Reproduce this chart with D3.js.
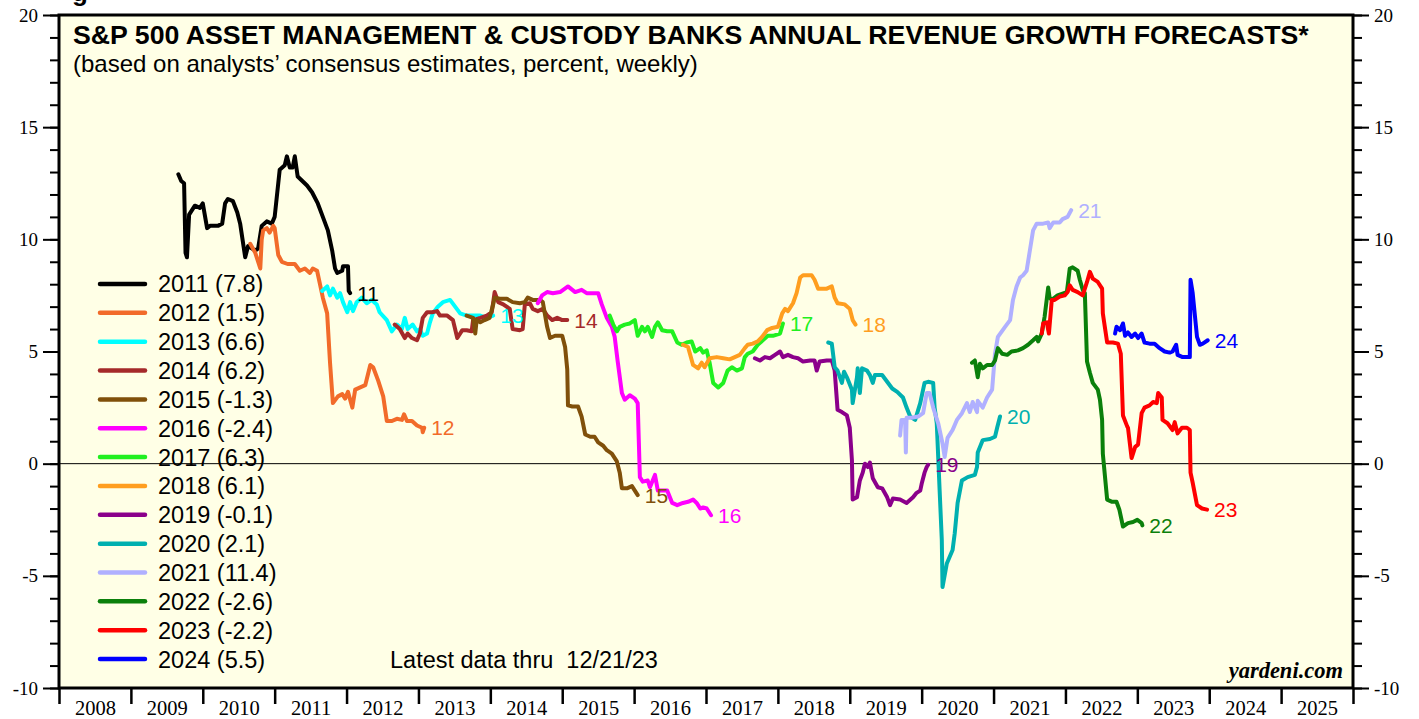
<!DOCTYPE html>
<html>
<head>
<meta charset="utf-8">
<script src="https://cdn.jsdelivr.net/npm/d3@7"></script>
<style>
  body { margin: 0; background: #fff; }
  svg { display: block; }
</style>
</head>
<body>
<div id="chart"></div>
<script>
// weekly consensus forecasts as [decimal year, percent]
const d2011 = [[2009.66,12.9],[2009.70,12.6],[2009.74,12.5],[2009.76,9.4],[2009.78,9.2],[2009.81,11.1],[2009.89,11.5],[2009.96,11.4],[2010.00,11.6],[2010.06,10.5],[2010.10,10.6],[2010.21,10.6],[2010.27,10.7],[2010.31,11.6],[2010.35,11.8],[2010.42,11.7],[2010.48,11.2],[2010.52,10.7],[2010.59,9.2],[2010.63,9.7],[2010.73,9.5],[2010.77,9.6],[2010.82,10.6],[2010.89,10.8],[2010.96,10.7],[2011.00,11.0],[2011.05,12.5],[2011.07,13.1],[2011.14,13.3],[2011.17,13.7],[2011.21,13.2],[2011.25,13.2],[2011.28,13.7],[2011.32,12.8],[2011.45,12.4],[2011.52,12.1],[2011.60,11.6],[2011.67,11.0],[2011.74,10.4],[2011.80,9.5],[2011.84,8.7],[2011.87,8.5],[2011.94,8.6],[2011.95,8.8],[2012.02,8.8],[2012.03,7.7],[2012.05,7.6]];
const d2012 = [[2010.66,9.8],[2010.73,9.4],[2010.80,8.7],[2010.82,10.0],[2010.84,10.4],[2010.89,10.5],[2010.93,10.3],[2010.98,10.6],[2011.00,10.5],[2011.05,9.3],[2011.10,9.0],[2011.18,8.9],[2011.28,8.9],[2011.35,8.6],[2011.42,8.7],[2011.49,8.5],[2011.53,8.7],[2011.59,8.6],[2011.63,8.0],[2011.67,7.4],[2011.73,6.7],[2011.77,4.5],[2011.81,2.7],[2011.88,3.0],[2011.94,3.1],[2011.98,2.9],[2012.02,3.2],[2012.08,2.5],[2012.12,3.3],[2012.19,3.4],[2012.26,3.5],[2012.33,4.4],[2012.37,4.3],[2012.44,3.7],[2012.51,3.0],[2012.56,1.9],[2012.63,1.9],[2012.70,2.0],[2012.77,1.95],[2012.80,2.2],[2012.84,1.9],[2012.91,1.9],[2012.98,1.7],[2013.05,1.6],[2013.06,1.4],[2013.08,1.6]];
const d2013 = [[2011.66,7.7],[2011.73,7.9],[2011.77,7.5],[2011.81,7.8],[2011.87,7.4],[2011.91,7.6],[2011.95,7.2],[2012.01,6.75],[2012.05,7.2],[2012.09,6.8],[2012.14,7.2],[2012.21,7.4],[2012.28,7.15],[2012.35,7.3],[2012.42,7.1],[2012.46,6.75],[2012.56,6.4],[2012.63,5.9],[2012.70,6.2],[2012.77,6.0],[2012.81,6.5],[2012.85,6.0],[2012.92,6.2],[2012.98,5.9],[2013.02,6.0],[2013.06,5.7],[2013.12,5.8],[2013.16,6.3],[2013.20,6.7],[2013.27,7.0],[2013.34,7.2],[2013.44,7.3],[2013.51,7.0],[2013.58,6.7],[2013.67,6.6],[2013.76,6.6],[2013.86,6.6],[2013.95,6.5],[2014.04,6.6]];
const d2014 = [[2012.67,6.2],[2012.74,6.0],[2012.81,5.6],[2012.85,5.8],[2012.91,5.6],[2012.98,5.5],[2013.02,5.8],[2013.06,6.5],[2013.12,6.75],[2013.19,6.75],[2013.26,6.8],[2013.30,6.6],[2013.40,6.6],[2013.48,6.4],[2013.54,5.6],[2013.61,5.95],[2013.67,5.95],[2013.74,5.9],[2013.76,6.4],[2013.86,6.5],[2013.95,6.6],[2014.02,6.75],[2014.06,7.65],[2014.11,7.2],[2014.18,7.1],[2014.27,6.9],[2014.31,6.0],[2014.41,5.95],[2014.45,6.0],[2014.48,7.1],[2014.55,7.15],[2014.59,6.9],[2014.66,6.8],[2014.73,6.9],[2014.79,6.6],[2014.86,6.4],[2014.93,6.5],[2015.00,6.4],[2015.07,6.4]];
const d2015 = [[2013.67,6.6],[2013.76,6.5],[2013.79,5.8],[2013.81,6.4],[2013.86,6.3],[2013.92,6.4],[2013.99,6.5],[2014.04,7.1],[2014.06,7.4],[2014.13,7.35],[2014.23,7.35],[2014.31,7.2],[2014.41,7.15],[2014.48,7.2],[2014.52,7.4],[2014.59,7.3],[2014.69,7.3],[2014.73,7.2],[2014.79,6.1],[2014.83,5.6],[2014.90,5.7],[2015.00,5.7],[2015.04,5.2],[2015.07,4.2],[2015.08,2.6],[2015.14,2.55],[2015.22,2.55],[2015.27,2.1],[2015.32,1.3],[2015.39,1.2],[2015.45,1.2],[2015.50,0.95],[2015.57,0.8],[2015.62,0.6],[2015.69,0.45],[2015.76,0.1],[2015.80,-0.4],[2015.83,-1.1],[2015.90,-1.1],[2015.97,-1.0],[2016.01,-1.2],[2016.05,-1.4]];
const d2016 = [[2014.66,7.15],[2014.72,7.5],[2014.79,7.65],[2014.87,7.6],[2014.97,7.65],[2015.08,7.9],[2015.18,7.65],[2015.27,7.75],[2015.34,7.6],[2015.50,7.6],[2015.55,7.1],[2015.62,6.5],[2015.69,6.1],[2015.73,5.65],[2015.77,4.6],[2015.83,3.15],[2015.87,2.85],[2015.94,3.05],[2016.01,2.9],[2016.05,2.7],[2016.08,-0.6],[2016.12,-0.8],[2016.19,-0.75],[2016.22,-1.05],[2016.29,-0.5],[2016.33,-1.2],[2016.46,-1.2],[2016.53,-1.75],[2016.60,-1.85],[2016.68,-1.75],[2016.75,-1.7],[2016.82,-1.6],[2016.87,-1.75],[2016.92,-2.0],[2016.96,-1.95],[2017.01,-2.0],[2017.07,-2.3]];
const d2017 = [[2015.66,6.6],[2015.71,6.2],[2015.76,5.9],[2015.80,6.1],[2015.87,6.2],[2015.94,6.25],[2016.01,6.4],[2016.05,5.7],[2016.11,6.1],[2016.15,5.9],[2016.19,6.1],[2016.25,5.65],[2016.29,6.1],[2016.33,6.3],[2016.39,5.95],[2016.46,5.9],[2016.53,5.9],[2016.60,5.4],[2016.66,5.3],[2016.73,5.4],[2016.80,5.45],[2016.85,5.0],[2016.92,5.15],[2016.96,4.95],[2017.01,5.05],[2017.05,4.5],[2017.10,3.6],[2017.17,3.4],[2017.24,3.6],[2017.30,4.15],[2017.36,4.3],[2017.43,4.15],[2017.50,4.25],[2017.54,4.75],[2017.58,4.9],[2017.65,5.0],[2017.72,5.3],[2017.79,5.5],[2017.86,5.7],[2017.93,5.7],[2018.03,5.8],[2018.07,6.25]];
const d2018 = [[2016.68,5.3],[2016.75,5.2],[2016.82,4.4],[2016.89,4.25],[2016.94,4.5],[2016.98,4.3],[2017.05,4.7],[2017.15,4.75],[2017.24,4.7],[2017.33,4.65],[2017.40,4.75],[2017.47,4.85],[2017.54,5.15],[2017.58,5.3],[2017.65,5.35],[2017.72,5.45],[2017.78,5.65],[2017.85,5.95],[2017.92,6.05],[2018.00,6.1],[2018.06,6.7],[2018.10,6.9],[2018.14,6.8],[2018.21,7.15],[2018.26,7.6],[2018.31,8.3],[2018.35,8.4],[2018.47,8.4],[2018.51,8.2],[2018.56,7.8],[2018.68,7.8],[2018.75,7.9],[2018.79,7.4],[2018.83,7.15],[2018.93,7.1],[2019.00,6.9],[2019.04,6.4],[2019.08,6.2]];
const d2019 = [[2017.68,4.7],[2017.75,4.6],[2017.82,4.75],[2017.89,4.7],[2017.96,4.85],[2018.03,5.0],[2018.07,4.75],[2018.14,4.85],[2018.21,4.75],[2018.28,4.7],[2018.35,4.55],[2018.45,4.6],[2018.51,4.6],[2018.54,4.15],[2018.58,4.55],[2018.68,4.6],[2018.75,4.6],[2018.79,4.15],[2018.82,2.85],[2018.83,2.4],[2018.89,2.3],[2018.96,2.15],[2019.00,1.6],[2019.03,0.15],[2019.04,-1.6],[2019.10,-1.5],[2019.14,-0.75],[2019.18,-0.4],[2019.21,0.0],[2019.25,-0.15],[2019.28,0.05],[2019.32,-0.65],[2019.39,-1.05],[2019.45,-1.1],[2019.52,-1.5],[2019.56,-1.85],[2019.60,-1.55],[2019.70,-1.6],[2019.79,-1.75],[2019.88,-1.5],[2019.93,-1.3],[2019.98,-1.2],[2020.00,-0.9],[2020.04,-0.4],[2020.07,-0.15],[2020.09,-0.05]];
const d2020 = [[2018.70,5.4],[2018.75,5.35],[2018.79,4.3],[2018.83,4.15],[2018.89,3.6],[2018.92,4.1],[2018.96,3.85],[2019.03,3.3],[2019.04,2.7],[2019.10,3.85],[2019.11,4.25],[2019.14,3.15],[2019.17,4.25],[2019.24,4.15],[2019.28,3.95],[2019.32,3.6],[2019.35,3.95],[2019.45,3.95],[2019.52,3.65],[2019.59,3.35],[2019.66,3.2],[2019.74,2.95],[2019.79,2.5],[2019.84,2.1],[2019.91,1.95],[2019.98,2.7],[2020.04,3.6],[2020.09,3.65],[2020.16,3.6],[2020.18,2.5],[2020.21,1.8],[2020.25,-1.2],[2020.28,-3.4],[2020.29,-5.5],[2020.35,-4.45],[2020.39,-4.15],[2020.43,-3.85],[2020.46,-3.1],[2020.50,-1.75],[2020.56,-0.75],[2020.64,-0.6],[2020.74,-0.5],[2020.77,-0.15],[2020.78,0.5],[2020.85,1.05],[2020.95,1.1],[2021.02,1.2],[2021.05,1.6],[2021.09,2.1]];
const d2021 = [[2019.70,1.25],[2019.72,1.95],[2019.77,1.95],[2019.78,0.5],[2019.79,2.05],[2019.86,2.05],[2019.95,2.1],[2020.02,2.25],[2020.07,3.15],[2020.11,3.15],[2020.16,2.5],[2020.23,1.8],[2020.29,0.9],[2020.32,0.3],[2020.36,1.15],[2020.43,1.5],[2020.49,1.95],[2020.56,2.25],[2020.63,2.7],[2020.67,2.3],[2020.71,2.75],[2020.77,2.3],[2020.78,2.8],[2020.85,2.5],[2020.91,2.95],[2020.98,3.3],[2020.99,3.7],[2021.02,4.9],[2021.06,5.65],[2021.16,6.1],[2021.23,6.4],[2021.27,7.3],[2021.32,7.9],[2021.37,8.3],[2021.41,8.4],[2021.46,8.6],[2021.50,9.4],[2021.55,10.4],[2021.60,10.7],[2021.69,10.7],[2021.76,10.75],[2021.78,10.5],[2021.83,10.75],[2021.92,10.75],[2021.96,10.9],[2022.03,11.0],[2022.08,11.3]];
const d2022 = [[2020.70,4.5],[2020.74,4.6],[2020.77,4.05],[2020.78,3.85],[2020.81,4.45],[2020.85,4.25],[2020.91,4.4],[2020.98,4.4],[2021.02,4.6],[2021.06,5.15],[2021.12,4.9],[2021.19,4.85],[2021.25,5.0],[2021.34,5.05],[2021.41,5.15],[2021.48,5.3],[2021.55,5.5],[2021.60,5.65],[2021.62,5.45],[2021.67,5.8],[2021.71,6.55],[2021.76,7.85],[2021.78,7.4],[2021.81,7.3],[2021.89,7.5],[2022.02,7.65],[2022.06,8.7],[2022.10,8.75],[2022.17,8.6],[2022.20,8.2],[2022.24,7.75],[2022.27,7.6],[2022.30,4.55],[2022.34,4.05],[2022.38,3.6],[2022.45,3.3],[2022.48,2.85],[2022.51,1.95],[2022.52,0.45],[2022.58,-1.6],[2022.65,-1.7],[2022.71,-1.7],[2022.75,-2.05],[2022.80,-2.8],[2022.87,-2.65],[2022.94,-2.6],[2023.00,-2.5],[2023.06,-2.65],[2023.07,-2.75]];
const d2023 = [[2021.67,5.8],[2021.69,6.25],[2021.74,6.3],[2021.77,5.8],[2021.81,7.3],[2021.85,7.3],[2021.92,7.45],[2021.99,7.5],[2022.03,7.65],[2022.06,7.95],[2022.10,7.75],[2022.17,7.65],[2022.24,7.5],[2022.30,8.1],[2022.34,8.55],[2022.38,8.25],[2022.45,8.1],[2022.51,7.8],[2022.52,6.7],[2022.58,5.4],[2022.66,5.4],[2022.73,5.35],[2022.77,4.9],[2022.80,2.15],[2022.86,1.65],[2022.87,1.6],[2022.92,0.25],[2022.97,0.75],[2023.01,0.85],[2023.06,2.25],[2023.10,2.5],[2023.17,2.6],[2023.22,2.75],[2023.27,2.7],[2023.29,3.15],[2023.34,2.95],[2023.35,1.95],[2023.42,1.8],[2023.49,1.5],[2023.52,1.85],[2023.56,1.35],[2023.62,1.6],[2023.69,1.6],[2023.73,1.5],[2023.74,-0.4],[2023.77,-0.85],[2023.83,-1.85],[2023.90,-2.0],[2023.97,-2.05]];
const d2024 = [[2022.69,5.8],[2022.71,6.1],[2022.76,5.95],[2022.80,6.25],[2022.83,5.7],[2022.87,5.85],[2022.92,5.65],[2022.97,5.8],[2023.01,5.6],[2023.06,5.8],[2023.10,5.4],[2023.17,5.35],[2023.24,5.35],[2023.31,5.15],[2023.38,5.0],[2023.45,4.95],[2023.49,5.0],[2023.54,5.3],[2023.56,4.85],[2023.63,4.75],[2023.73,4.75],[2023.74,8.2],[2023.77,7.6],[2023.83,5.65],[2023.87,5.3],[2023.91,5.35],[2023.98,5.5]];

const seriesYears = [2011, 2012, 2013, 2014, 2015, 2016, 2017, 2018, 2019, 2020, 2021, 2022, 2023, 2024];
const seriesData = [d2011, d2012, d2013, d2014, d2015, d2016, d2017, d2018, d2019, d2020, d2021, d2022, d2023, d2024];
const legendValues = ["7.8", "1.5", "6.6", "6.2", "-1.3", "-2.4", "6.3", "6.1", "-0.1", "2.1", "11.4", "-2.6", "-2.2", "5.5"];
const seriesColors = ["#000000", "#F26B2A", "#00FFFF", "#A52A2A", "#80500A", "#FF00FF", "#20F020", "#FF9E1F", "#8B008B", "#00B0B0", "#B0B0FF", "#0B800B", "#FF0000", "#0000FF"];
const yearLabels = d3.range(2008, 2026);
const yMajor = [-10, -5, 0, 5, 10, 15, 20];
const yMinor = d3.range(-10, 21);

const W = 1419, H = 719;
const plotLeft = 59, plotRight = 1353, plotTop = 15, plotBottom = 688;

const svg = d3.select("#chart").append("svg")
	.attr("width", W)
	.attr("height", H);

const x = d3.scaleLinear().domain([2008, 2026]).range([plotLeft, plotRight]);
const y = d3.scaleLinear().domain([-10, 20]).range([plotBottom, plotTop]);

// cropped heading left over above the frame
svg.append("text")
	.attr("x", 72).attr("y", 1)
	.attr("font-family", "Liberation Sans, Arial, sans-serif")
	.attr("font-weight", "bold")
	.attr("font-size", 26)
	.text("g");

svg.append("rect")
	.attr("x", plotLeft).attr("y", plotTop)
	.attr("width", plotRight - plotLeft).attr("height", plotBottom - plotTop)
	.attr("fill", "#FFFFE6");

// left and right axes, majors + minors
const serif = "Liberation Serif, Times New Roman, serif";
function yAxis(axisFn, xpos, size, values, labels){
	const g = svg.append("g")
		.attr("transform", `translate(${xpos},0)`)
		.call(axisFn(y).tickValues(values).tickSize(size).tickPadding(5)
			.tickFormat(labels ? (d => String(d)) : ""));
	g.select(".domain").remove();
	g.selectAll("line").attr("stroke", "#000").attr("stroke-width", 2);
	g.selectAll("text").attr("font-family", serif).attr("font-size", 19).attr("fill", "#000");
	return g;
}
yAxis(d3.axisLeft, plotLeft, 9, yMinor, false);
yAxis(d3.axisLeft, plotLeft, 16, yMajor, true);
yAxis(d3.axisRight, plotRight, 9, yMinor, false);
yAxis(d3.axisRight, plotRight, 16, yMajor, true);

// x axis: ticks on year boundaries, labels centred in each year
const xg = svg.append("g")
	.attr("transform", `translate(0,${plotBottom})`)
	.call(d3.axisBottom(x).tickValues(d3.range(2008, 2027)).tickSize(16).tickFormat(""));
xg.select(".domain").remove();
xg.selectAll("line").attr("stroke", "#000").attr("stroke-width", 2.5);

const xl = svg.append("g")
	.attr("transform", `translate(0,${plotBottom})`)
	.call(d3.axisBottom(x).tickValues(yearLabels.map(d => d + 0.5)).tickSize(0).tickPadding(12)
		.tickFormat(d => Math.floor(d)));
xl.select(".domain").remove();
xl.selectAll("text").attr("font-family", serif).attr("font-size", 20.5).attr("fill", "#000");

// zero line
svg.append("line")
	.attr("x1", plotLeft).attr("x2", plotRight)
	.attr("y1", y(0)).attr("y2", y(0))
	.attr("stroke", "#000").attr("stroke-width", 1);

// frame
svg.append("rect")
	.attr("x", plotLeft).attr("y", plotTop)
	.attr("width", plotRight - plotLeft).attr("height", plotBottom - plotTop)
	.attr("fill", "none")
	.attr("stroke", "#000").attr("stroke-width", 3);

const line = d3.line().x(d => x(d[0])).y(d => y(d[1]));
const sans = "Liberation Sans, Arial, sans-serif";

seriesData.forEach((data, i) => {
	svg.append("path")
		.datum(data)
		.attr("d", line)
		.attr("fill", "none")
		.attr("stroke", seriesColors[i])
		.attr("stroke-width", 4)
		.attr("stroke-linejoin", "round")
		.attr("stroke-linecap", "round");
});

// end labels
seriesData.forEach((data, i) => {
	const last = data[data.length - 1];
	svg.append("text")
		.attr("x", x(last[0]) + 7)
		.attr("y", y(last[1]))
		.attr("dy", "0.36em")
		.attr("font-family", sans)
		.attr("font-size", 21)
		.attr("fill", seriesColors[i])
		.text(String(seriesYears[i]).slice(2));
});

// legend
const leg = svg.append("g");
seriesYears.forEach((yr, i) => {
	const ly = 284 + i * 28.85;
	leg.append("line")
		.attr("x1", 100).attr("x2", 145)
		.attr("y1", ly).attr("y2", ly)
		.attr("stroke", seriesColors[i])
		.attr("stroke-width", 4.5)
		.attr("stroke-linecap", "round");
	leg.append("text")
		.attr("x", 158).attr("y", ly)
		.attr("dy", "0.36em")
		.attr("font-family", sans)
		.attr("font-size", 23.5)
		.attr("fill", "#000")
		.text(`${yr} (${legendValues[i]})`);
});

// titles and notes
svg.append("text")
	.attr("x", 73).attr("y", 44)
	.attr("font-family", sans)
	.attr("font-weight", "bold")
	.attr("font-size", 26.7)
	.text("S&P 500 ASSET MANAGEMENT & CUSTODY BANKS ANNUAL REVENUE GROWTH FORECASTS*");

svg.append("text")
	.attr("x", 73).attr("y", 72)
	.attr("font-family", sans)
	.attr("font-size", 24)
	.text("(based on analysts’ consensus estimates, percent, weekly)");

svg.append("text")
	.attr("x", 390).attr("y", 660)
	.attr("dy", "0.36em")
	.attr("font-family", sans)
	.attr("font-size", 23.5)
	.style("white-space", "pre")
	.text("Latest data thru  12/21/23");

svg.append("text")
	.attr("x", 1343).attr("y", 678)
	.attr("text-anchor", "end")
	.attr("font-family", serif)
	.attr("font-weight", "bold")
	.attr("font-style", "italic")
	.attr("font-size", 22.5)
	.text("yardeni.com");
</script>
</body>
</html>
